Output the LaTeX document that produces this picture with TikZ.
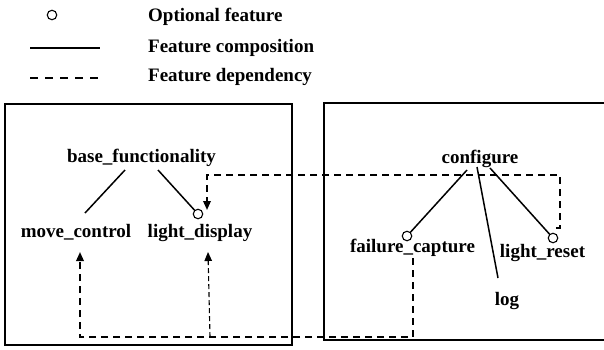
\documentclass[tikz,border=0pt]{standalone}
\usepackage{fontspec}
\setmainfont{Liberation Serif}
\usetikzlibrary{arrows.meta}
\begin{document}
\begin{tikzpicture}[x=1pt,y=-1pt,
  lbl/.style={font=\fontsize{19}{22}\selectfont\bfseries, inner sep=0pt, anchor=base},
  legtxt/.style={font=\fontsize{19}{22}\selectfont\bfseries, inner sep=0pt, anchor=base west},
  opt/.style={circle, draw, line width=1.1pt, fill=white, minimum size=9.5pt, inner sep=0pt},
  comp/.style={line width=1.5pt},
  dep/.style={line width=1.7pt, dash pattern=on 7pt off 5pt},
  legdep/.style={line width=1.7pt, dash pattern=on 8pt off 7pt},
  depthin/.style={line width=1.1pt, dash pattern=on 5pt off 3pt},
  tip/.style={-{Triangle[length=9pt,width=7.5pt]}},
  frame/.style={line width=1.1pt}]
\useasboundingbox (0,0) rectangle (604,349);

% legend
\node[opt] (lcirc) at (52,15) {};
\node[legtxt] (l1) at (148,21) {Optional feature};
\coordinate (ls1) at (30,48);
\coordinate (ls2) at (100,48);
\draw[comp] (ls1) -- (ls2);
\node[legtxt] (l2) at (148,52) {Feature composition};
\coordinate (ld1) at (30,78);
\coordinate (ld2) at (100,78);
\draw[legdep] (ld1) -- (ld2);
\node[legtxt] (l3) at (148,81) {Feature dependency};

% frames
\draw[frame] (5,104) rectangle (292,345);
\draw[frame] (606,103) -- (324,103) -- (324,340) -- (606,340);

% left module
\node[lbl] (bf) at (141.5,162) {base\_functionality};
\node[lbl] (mc) at (76,237) {move\_control};
\node[lbl] (ld) at (200,237) {light\_display};
\node[opt] (ldc) at (198,214) {};
\coordinate (bfl) at (125,170);
\coordinate (bfr) at (158,170);
\coordinate (mct) at (85,213);
\draw[comp] (bfl) -- (mct);
\draw[comp] (bfr) -- (ldc);

% right module
\node[lbl] (cf) at (480,163) {configure};
\node[lbl] (fc) at (412.5,252) {failure\_capture};
\node[lbl] (lr) at (542.5,257) {light\_reset};
\node[lbl] (lg) at (507,305) {log};
\node[opt] (fcc) at (407,236) {};
\node[opt] (lrc) at (553,238) {};
\coordinate (cf1) at (467,170);
\coordinate (cf2) at (477,167);
\coordinate (cf3) at (490,168);
\coordinate (lgt) at (498,278);
\draw[comp] (cf1) -- (fcc);
\draw[comp] (cf2) -- (lgt);
\draw[comp] (cf3) -- (lrc);

% dependencies
\coordinate (lrd) at (556,228);
\coordinate (ldtip) at (207,210);
\draw[dep, tip] (lrd) -- (560,228) -- (560,175) -- (207,175) -- (ldtip);
\coordinate (fcd) at (413,258);
\coordinate (mctip) at (80,252);
\draw[dep, tip] (fcd) -- (413,337) -- (80,337) -- (mctip);
\coordinate (jn) at (210,337);
\coordinate (ldtip2) at (208,252);
\draw[depthin, tip] (jn) -- (ldtip2);
\end{tikzpicture}
\end{document}
